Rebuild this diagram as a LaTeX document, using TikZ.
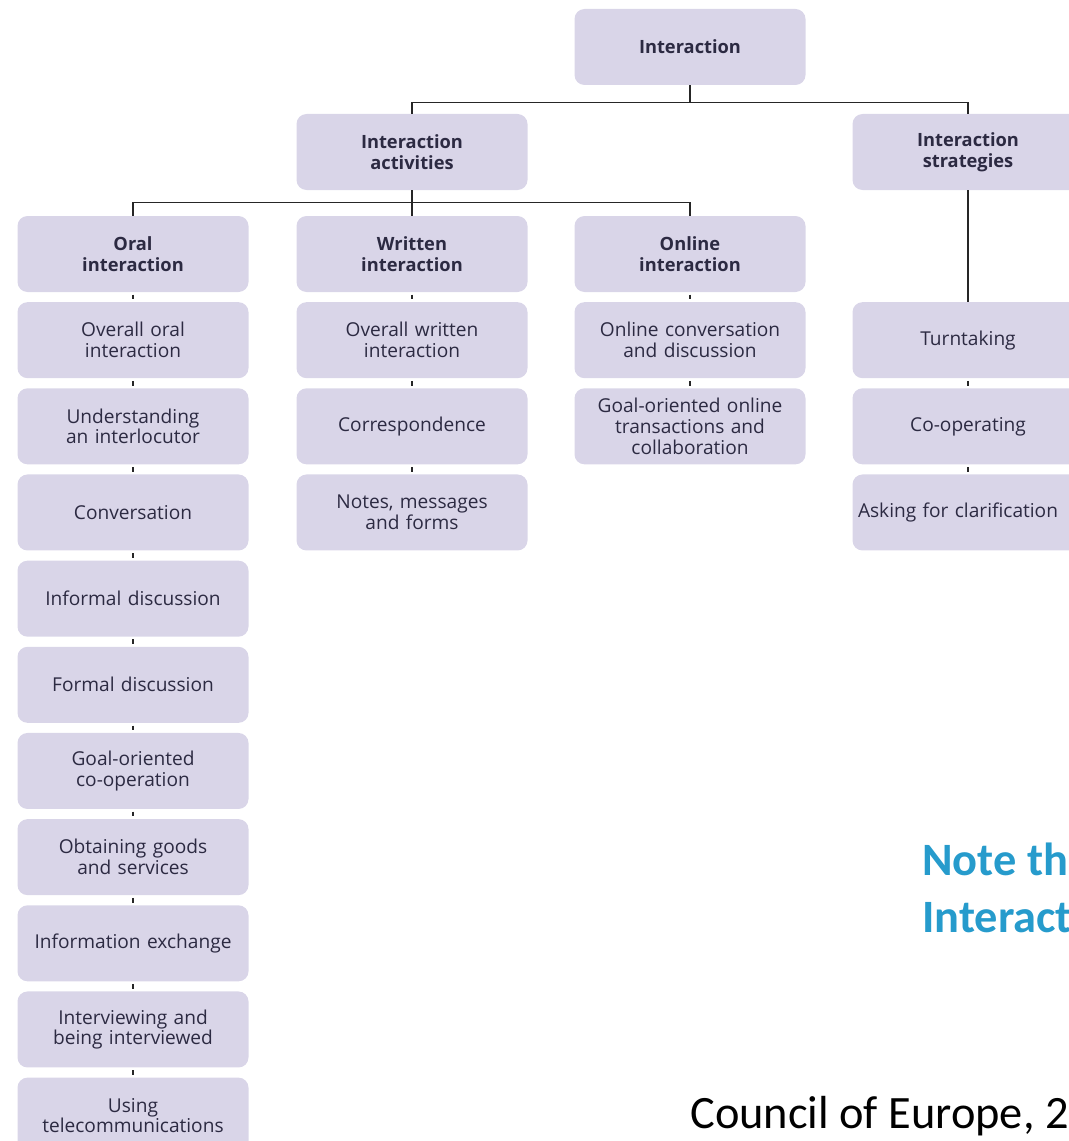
\documentclass[tikz,border=0pt]{standalone}
\usepackage{fontspec}
\setmainfont{Open Sans}
\newfontfamily\slidefont{Carlito}
\usetikzlibrary{positioning, calc}
\definecolor{boxfill}{RGB}{217,213,232}
\definecolor{boxtext}{RGB}{44,42,66}
\definecolor{noteblue}{RGB}{38,155,204}
\tikzset{
    block/.style={rectangle, rounded corners=0.25cm, fill=boxfill, text=boxtext, text width=5.6cm, align=center, minimum width=5.775cm, minimum height=1.9cm, inner sep=0pt, font=\fontsize{13.6}{14.8}\selectfont},
    block_head/.style={block, font=\fontsize{13}{14.8}\selectfont\bfseries},
    link/.style={draw=black!85, line width=0.9pt},
    tick/.style={link, shorten <=0.06cm, shorten >=0.06cm},
    slide_text/.style={anchor=base west, inner sep=0pt, font=\slidefont\fontsize{33}{40}\selectfont}
}

\begin{document}
\begin{tikzpicture}[node distance=0.24cm]
\useasboundingbox (0,0) rectangle (26.7,-28.525);
% top levels
\node (int) [block_head] at (17.25,-1.175) {Interaction};
\node (act) [block_head] at (10.3,-3.8) {Interaction\\activities};
\node (strat) [block_head] at (24.2,-3.8) {Interaction\\strategies};
\node (oral) [block_head] at (3.325,-6.35) {Oral\\interaction};
\node (wri) [block_head] at (10.3,-6.35) {Written\\interaction};
\node (onl) [block_head] at (17.25,-6.35) {Online\\interaction};

% oral column
\node (o1) [block, below=of oral] {Overall oral\\interaction};
\node (o2) [block, below=of o1] {Understanding\\an interlocutor};
\node (o3) [block, below=of o2] {Conversation};
\node (o4) [block, below=of o3] {Informal discussion};
\node (o5) [block, below=of o4] {Formal discussion};
\node (o6) [block, below=of o5] {Goal-oriented\\co-operation};
\node (o7) [block, below=of o6] {Obtaining goods\\and services};
\node (o8) [block, below=of o7] {Information exchange};
\node (o9) [block, below=of o8] {Interviewing and\\being interviewed};
\node (o10) [block, below=of o9] {Using\\telecommunications};

% written column
\node (w1) [block, below=of wri] {Overall written\\interaction};
\node (w2) [block, below=of w1] {Correspondence};
\node (w3) [block, below=of w2] {Notes, messages\\and forms};

% online column
\node (n1) [block, below=of onl] {Online conversation\\and discussion};
\node (n2) [block, below=of n1] {Goal-oriented online\\transactions and\\collaboration};

% strategies column
\node (s1) [block] at (strat |- w1) {Turntaking};
\node (s2) [block, below=of s1] {Co-operating};
\node (s3) [block, below=of s2] {Asking for clarification\hspace*{0.5cm}};

\coordinate (top_bus) at ($(int.south)+(0,-0.425)$);
\coordinate (act_bus) at ($(act.south)+(0,-0.3)$);
\draw [link] (int.south) -- (top_bus);
\draw [link] (act.north) |- (top_bus) -| (strat.north);
\draw [link] (act.south) -- (wri.north);
\draw [link] (oral.north) |- (act_bus) -| (onl.north);
\draw [link] (strat) -- (s1);

\foreach \a/\b in {oral/o1, o1/o2, o2/o3, o3/o4, o4/o5, o5/o6, o6/o7, o7/o8, o8/o9, o9/o10, wri/w1, w1/w2, w2/w3, onl/n1, n1/n2, s1/s2, s2/s3}
    \draw [tick] (\a) -- (\b);

% slide text
\node (note1) [slide_text, text=noteblue, font=\slidefont\bfseries\fontsize{33}{40}\selectfont] at (23.05,-21.875) {Note th};
\node (note2) [slide_text, text=noteblue, font=\slidefont\bfseries\fontsize{33}{40}\selectfont] at (23.05,-23.3) {Interact};
\node (source) [slide_text] at (17.25,-28.2) {Council of Europe, 2};
\end{tikzpicture}
\end{document}
